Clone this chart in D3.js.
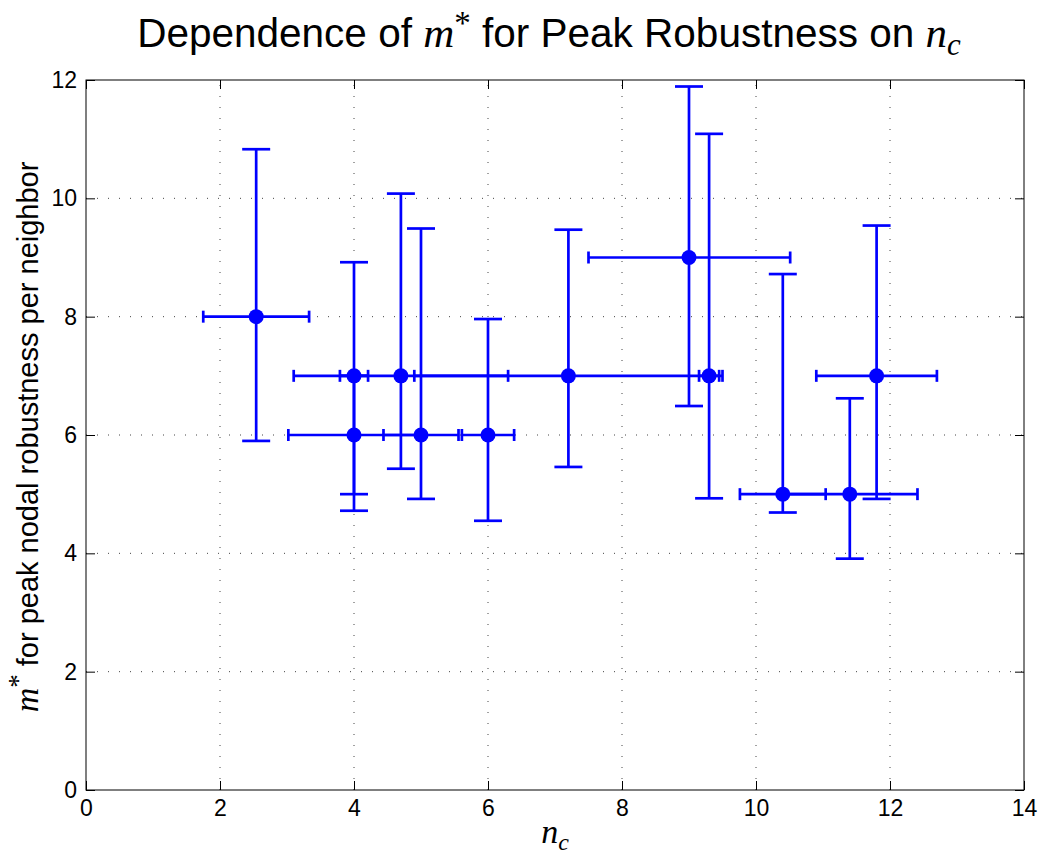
<!DOCTYPE html>
<html><head><meta charset="utf-8">
<script src="https://cdn.jsdelivr.net/npm/d3@7"></script>
<style>body{margin:0;background:#fff}</style>
</head><body>
<svg id="c" width="1042" height="856"></svg>
<script>
// data
const nc      = [2.54, 4.0, 4.0, 4.7, 5.0, 6.0, 7.2, 9.0, 9.3, 10.4, 11.4, 11.8];
const mstar   = [8,    7,   6,   7,   6,   6,   7,   9,   7,   5,    5,    7];
const yLow    = [5.90, 5.00, 4.72, 5.43, 4.92, 4.55, 5.46, 6.49, 4.93, 4.69, 3.91, 4.92];
const yHigh   = [10.83, 8.92, 7.00, 10.08, 9.49, 7.96, 9.47, 11.89, 11.09, 8.72, 6.62, 9.54];
const xLow    = [1.75, 3.79, 3.02, 3.10, 4.44, 5.61, 4.90, 7.50, 9.15, 9.76, 10.40, 10.90];
const xHigh   = [3.33, 4.21, 4.98, 6.30, 5.56, 6.39, 9.50, 10.51, 9.45, 11.04, 12.41, 12.70];
const xTicks  = [0, 2, 4, 6, 8, 10, 12, 14];
const yTicks  = [0, 2, 4, 6, 8, 10, 12];

const svg = d3.select('#c');
const L = 86, R = 1024, T = 80, B = 790;
const x = d3.scaleLinear().domain([0, 14]).range([L, R]);
const y = d3.scaleLinear().domain([0, 12]).range([B, T]);
const sans = "'Liberation Sans', Arial, Helvetica, sans-serif";
const serif = "'Liberation Serif', 'DejaVu Serif', serif";

// grid
const g = svg.append('g');
g.selectAll('.gx').data(xTicks.slice(1, -1)).join('line')
  .attr('x1', d => x(d)).attr('x2', d => x(d)).attr('y1', B).attr('y2', T)
  .attr('stroke', '#444').attr('stroke-width', 1).attr('stroke-dasharray', '1,10');
g.selectAll('.gy').data(yTicks.slice(1, -1)).join('line')
  .attr('y1', d => y(d)).attr('y2', d => y(d)).attr('x1', L).attr('x2', R)
  .attr('stroke', '#444').attr('stroke-width', 1).attr('stroke-dasharray', '1,10');

// axes (inward ticks)
const tl = 9;
const axB = svg.append('g').attr('transform', `translate(0,${B})`)
  .call(d3.axisBottom(x).tickValues(xTicks).tickSize(-tl).tickPadding(10).tickFormat(d3.format('d')));
const axT = svg.append('g').attr('transform', `translate(0,${T})`)
  .call(d3.axisTop(x).tickValues(xTicks).tickSize(-tl).tickFormat(''));
const axL = svg.append('g').attr('transform', `translate(${L},0)`)
  .call(d3.axisLeft(y).tickValues(yTicks).tickSize(-tl).tickPadding(9).tickFormat(d3.format('d')));
const axR = svg.append('g').attr('transform', `translate(${R},0)`)
  .call(d3.axisRight(y).tickValues(yTicks).tickSize(-tl).tickFormat(''));
[axB, axT, axL, axR].forEach(a => {
  a.select('.domain').remove();
  a.selectAll('line').attr('stroke', '#000').attr('stroke-width', 1);
  a.selectAll('text').attr('font-family', sans).attr('font-size', 23).attr('fill', '#000');
});
svg.append('rect').attr('x', L).attr('y', T).attr('width', R - L).attr('height', B - T)
  .attr('fill', 'none').attr('stroke', '#000').attr('stroke-width', 1);

// error bars
const blue = '#0000ff';
const pts = nc.map((d, i) => ({x: d, y: mstar[i], yl: yLow[i], yh: yHigh[i], xl: xLow[i], xh: xHigh[i]}));
const eb = svg.append('g').attr('stroke', blue).attr('stroke-width', 2.7).attr('fill', 'none');
const capW = 14, capH = 6;
pts.forEach(p => {
  eb.append('line').attr('x1', x(p.x)).attr('x2', x(p.x)).attr('y1', y(p.yl)).attr('y2', y(p.yh));
  [p.yl, p.yh].forEach(v => eb.append('line').attr('x1', x(p.x) - capW).attr('x2', x(p.x) + capW)
    .attr('y1', y(v)).attr('y2', y(v)));
  eb.append('line').attr('x1', x(p.xl)).attr('x2', x(p.xh)).attr('y1', y(p.y)).attr('y2', y(p.y));
  [p.xl, p.xh].forEach(v => eb.append('line').attr('x1', x(v)).attr('x2', x(v))
    .attr('y1', y(p.y) - capH).attr('y2', y(p.y) + capH));
});
svg.append('g').selectAll('circle').data(pts).join('circle')
  .attr('cx', d => x(d.x)).attr('cy', d => y(d.y)).attr('r', 7.5).attr('fill', blue);

// title
const title = svg.append('text').attr('x', 549).attr('y', 47).attr('text-anchor', 'middle')
  .attr('font-family', sans).attr('font-size', 40.5).attr('fill', '#000');
title.append('tspan').text('Dependence of ');
title.append('tspan').attr('font-family', serif).attr('font-style', 'italic').attr('font-size', 43).text('m');
title.append('tspan').attr('font-family', serif).attr('font-size', 33).attr('dy', -13).text('*');
title.append('tspan').attr('dy', 13).text(' for Peak Robustness on ');
title.append('tspan').attr('font-family', serif).attr('font-style', 'italic').attr('font-size', 43).text('n');
title.append('tspan').attr('font-family', serif).attr('font-style', 'italic').attr('font-size', 31).attr('dy', 8).text('c');

// x label
const xl = svg.append('text').attr('x', (L + R) / 2).attr('y', 843).attr('text-anchor', 'middle')
  .attr('font-family', serif).attr('font-style', 'italic').attr('font-size', 34).attr('fill', '#000');
xl.append('tspan').text('n');
xl.append('tspan').attr('font-size', 24).attr('dy', 7).text('c');

// y label
const yl = svg.append('text').attr('transform', 'translate(38,437) rotate(-90)').attr('text-anchor', 'middle')
  .attr('font-family', sans).attr('font-size', 29).attr('fill', '#000');
yl.append('tspan').attr('font-family', serif).attr('font-style', 'italic').attr('font-size', 34).text('m');
yl.append('tspan').attr('font-family', serif).attr('font-size', 27).attr('dy', -11).text('*');
yl.append('tspan').attr('dy', 11).text(' for peak nodal robustness per neighbor');
</script>
</body></html>
